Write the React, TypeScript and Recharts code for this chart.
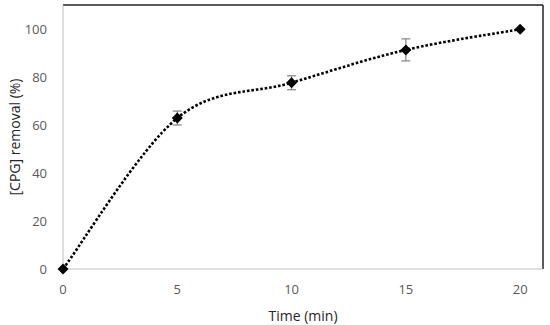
import { LineChart, Line, XAxis, YAxis, ErrorBar, ReferenceLine } from "recharts";

const times = [0, 5, 10, 15, 20];
const removal = [0, 62.9, 77.6, 91.3, 99.9];
const errors = [0, 2.9, 2.9, 4.6, 0];

const xTicks = [0, 5, 10, 15, 20];
const yTicks = [0, 20, 40, 60, 80, 100];

const data = times.map((t, i) => ({ time: t, removal: removal[i], err: errors[i] }));

// Excel-like smoothed line (Catmull-Rom)
const smooth = (context: any) => {
  let pts: number[][] = [];
  return {
    areaStart() {},
    areaEnd() {},
    lineStart() {
      pts = [];
    },
    point(x: number, y: number) {
      pts.push([x, y]);
    },
    lineEnd() {
      if (!pts.length) return;
      context.moveTo(pts[0][0], pts[0][1]);
      for (let i = 0; i < pts.length - 1; i++) {
        const p0 = pts[i - 1] || pts[i];
        const p1 = pts[i];
        const p2 = pts[i + 1];
        const p3 = pts[i + 2] || p2;
        context.bezierCurveTo(
          p1[0] + (p2[0] - p0[0]) / 6,
          p1[1] + (p2[1] - p0[1]) / 6,
          p2[0] - (p3[0] - p1[0]) / 6,
          p2[1] - (p3[1] - p1[1]) / 6,
          p2[0],
          p2[1]
        );
      }
    },
  };
};

const Diamond = (props: any) => {
  const { cx, cy, index } = props;
  const s = 5.5;
  return (
    <path
      key={index}
      d={`M${cx},${cy - s}L${cx + s},${cy}L${cx},${cy + s}L${cx - s},${cy}Z`}
      fill="#000"
    />
  );
};

const tick = { fill: "#595959", fontSize: 13, fontFamily: "Open Sans" };

const App = () => {
  return (
    <div style={{ position: "absolute", left: 0, top: 0, background: "#fff" }}>
      <LineChart
        width={550}
        height={325}
        data={data}
        margin={{ top: 5, right: 7, left: 0, bottom: 0 }}
      >
        <XAxis
          dataKey="time"
          type="number"
          domain={[0, 21]}
          ticks={xTicks}
          tick={tick}
          tickLine={false}
          axisLine={{ stroke: "#bfbfbf" }}
          height={56}
          tickMargin={10}
          label={{
            value: "Time (min)",
            position: "insideBottom",
            offset: 4,
            fill: "#262626",
            fontSize: 14,
            fontFamily: "Open Sans",
          }}
        />
        <YAxis
          type="number"
          domain={[0, 110]}
          ticks={yTicks}
          tick={tick}
          tickLine={false}
          axisLine={{ stroke: "#bfbfbf" }}
          width={63}
          tickMargin={10}
          label={{
            value: "[CPG] removal (%)",
            angle: -90,
            position: "insideLeft",
            offset: 15,
            style: { textAnchor: "middle" },
            fill: "#262626",
            fontSize: 14,
            fontFamily: "Open Sans",
          }}
        />
        <ReferenceLine y={110} stroke="#222" strokeWidth={1.5} />
        <ReferenceLine x={21} stroke="#222" strokeWidth={1.5} />
        <Line
          dataKey="removal"
          type={smooth as any}
          stroke="#000"
          strokeWidth={2.6}
          strokeDasharray="2.6 1.9"
          dot={Diamond}
          activeDot={false}
          isAnimationActive={false}
        >
          <ErrorBar dataKey="err" width={4.5} stroke="#8c8c8c" strokeWidth={1.3} direction="y" />
        </Line>
      </LineChart>
    </div>
  );
};

export default App;
